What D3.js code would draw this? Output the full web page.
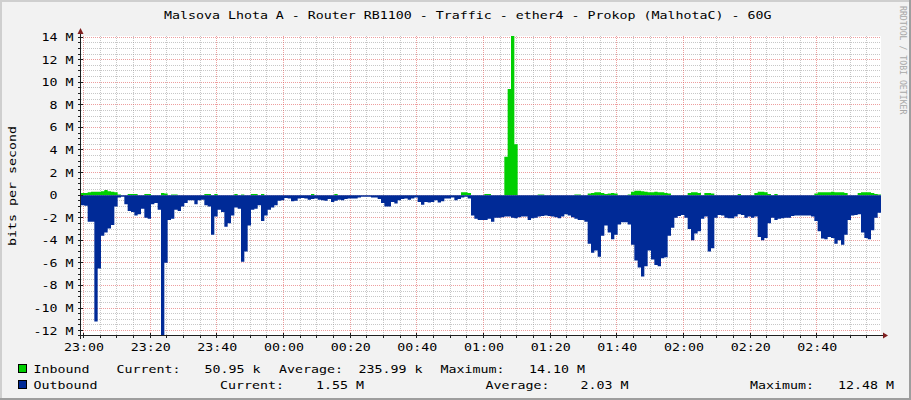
<!DOCTYPE html>
<html><head><meta charset="utf-8">
<script src="https://cdn.jsdelivr.net/npm/d3@7"></script>
<style>html,body{margin:0;padding:0;background:#f2f2f2;} svg{display:block;} text{font-family:"DejaVu Sans Mono",monospace;}</style>
</head><body><svg id="c" width="911" height="400"></svg>
<script>
const title = "Malsova Lhota A - Router RB1100 - Traffic - ether4 - Prokop (MalhotaC) - 60G";
const yLabel = "bits per second";
const watermark = "RRDTOOL / TOBI OETIKER";
const seriesNames = ["Inbound", "Outbound"];
const seriesColors = ["#00CF00", "#002A97"];
// values in M bits/s, one per minute starting 22:59:15
const inbound = [
  0.2, 0.2, 0.25, 0.3, 0.3, 0.3, 0.35, 0.45, 0.35, 0.3,
  0.25, 0.05, 0, 0, 0.1, 0.1, 0.1, 0, 0, 0.1,
  0.1, 0, 0, 0, 0.2, 0.15, 0, 0.05, 0.05, 0,
  0, 0, 0, 0, 0, 0, 0, 0.1, 0.1, 0,
  0.1, 0, 0, 0, 0, 0, 0.1, 0, 0.05, 0,
  0, 0.1, 0.1, 0, 0.1, 0, 0, 0, 0, 0,
  0, 0, 0, 0, 0, 0, 0, 0, 0, 0.1,
  0, 0, 0, 0, 0, 0, 0.1, 0, 0, 0,
  0, 0, 0, 0, 0, 0, 0, 0, 0, 0,
  0, 0, 0, 0, 0, 0, 0, 0, 0, 0,
  0, 0, 0, 0, 0, 0, 0, 0, 0, 0,
  0, 0, 0, 0, 0.25, 0.25, 0.2, 0, 0, 0,
  0, 0.1, 0.1, 0, 0, 0, 0, 3.4, 9.4, 14.1,
  4.5, 0, 0, 0, 0, 0, 0, 0.05, 0.05, 0,
  0, 0, 0, 0, 0, 0, 0, 0, 0.05, 0.05,
  0, 0, 0.15, 0.2, 0.25, 0.25, 0.2, 0.1, 0.15, 0.2,
  0.15, 0, 0, 0, 0.05, 0.3, 0.4, 0.4, 0.35, 0.3,
  0.25, 0.25, 0.3, 0.25, 0.25, 0.2, 0.15, 0, 0, 0,
  0, 0, 0.2, 0.25, 0.25, 0.2, 0, 0.2, 0.2, 0.15,
  0, 0, 0, 0, 0, 0, 0, 0.1, 0, 0,
  0, 0, 0.2, 0.3, 0.3, 0.25, 0.1, 0, 0.1, 0,
  0, 0, 0, 0, 0, 0, 0, 0, 0, 0,
  0.15, 0.25, 0.25, 0.25, 0.25, 0.3, 0.25, 0.25, 0.25, 0.2,
  0, 0, 0, 0.2, 0.25, 0.25, 0.25, 0.2, 0.1, 0.05
];
const outbound = [
  0.9, 0.95, 2.35, 2.35, 11.2, 6.5, 3.6, 3.3, 2.95, 2.65,
  1.0, 0.2, 0.15, 0.8, 1.4, 1.5, 1.8, 1.7, 1.2, 2.0,
  2.1, 0.8, 0.7, 1.3, 12.48, 6.0, 2.2, 2.1, 1.3, 1.4,
  1.0, 0.7, 0.45, 0.45, 0.8, 0.45, 0.4, 0.9, 1.0, 3.5,
  1.9, 1.3, 1.5, 2.8, 2.5, 1.8, 1.1, 1.2, 5.9, 5.0,
  2.7, 1.3, 1.2, 0.9, 2.3, 1.8, 1.3, 1.1, 0.9, 0.5,
  0.45, 0.25, 0.3, 0.55, 0.5, 0.3, 0.25, 0.3, 0.4, 0.35,
  0.3, 0.4, 0.45, 0.5, 0.35, 0.6, 0.5, 0.4, 0.45, 0.35,
  0.3, 0.3, 0.3, 0.2, 0.15, 0.15, 0.15, 0.2, 0.2, 0.35,
  0.7, 1.0, 1.0, 0.6, 0.75, 0.45, 0.35, 0.3, 0.4, 0.3,
  0.2, 0.6, 0.85, 0.6, 0.65, 0.6, 0.45, 0.65, 0.55, 0.3,
  0.3, 0.2, 0.45, 0.35, 0.2, 0.15, 0.3, 1.8, 2.1, 2.2,
  2.2, 2.2, 2.1, 2.35, 2.0, 2.0, 1.95, 1.9, 1.9, 2.0,
  2.05, 1.95, 1.9, 1.9, 2.2, 2.05, 2.0, 1.9, 1.85, 1.8,
  1.85, 1.9, 1.95, 2.05, 1.9, 1.7, 1.8, 1.95, 2.1, 2.2,
  2.2, 2.35, 4.3, 5.1, 4.9, 5.45, 3.6, 2.7, 3.3, 3.9,
  3.5, 2.6, 2.4, 2.4, 2.6, 4.4, 5.8, 6.4, 7.2, 6.3,
  4.9, 5.7, 6.2, 6.3, 5.6, 5.5, 3.6, 2.9, 2.0, 1.85,
  1.75, 2.0, 3.0, 4.0, 3.4, 3.2, 2.1, 1.9, 5.0, 4.7,
  2.0, 1.75, 1.8, 2.0, 2.05, 2.05, 1.9, 1.7, 1.75, 2.0,
  1.9, 2.0, 1.9, 3.7, 4.0, 3.8, 2.5, 2.0, 2.2, 2.1,
  2.05, 2.0, 2.0, 1.85, 1.8, 1.8, 1.8, 1.8, 1.8, 1.9,
  2.3, 3.2, 3.85, 3.9, 3.7, 3.8, 4.3, 4.0, 4.4, 3.5,
  2.2, 1.8, 1.75, 1.7, 3.3, 3.8, 3.9, 3.1, 2.0, 1.55
];
const legendCurrent = ["50.95 k", "1.55 M"];
const legendAverage = ["235.99 k", "2.03 M"];
const legendMaximum = ["14.10 M", "12.48 M"];
const yTickValues = [-12, -10, -8, -6, -4, -2, 0, 2, 4, 6, 8, 10, 12, 14];
const yTickLabels = ["-12 M", "-10 M", "-8 M", "-6 M", "-4 M", "-2 M", "0", "2 M", "4 M", "6 M", "8 M", "10 M", "12 M", "14 M"];
const yMin = -12.48, yMax = 14.10;
const startTime = new Date(2013, 0, 1, 22, 59, 15);
const endTime = new Date(2013, 0, 2, 2, 59, 15);

const svg = d3.select("#c");
const W = 911, H = 400;
const L = 81, R = 881, TOP = 36, BOT = 336;
const FS = 11, SX = 8 / (0.6021 * FS);

function T(parent, x, y, s, anchor, extra) {
  return parent.append("text")
    .attr("transform", `translate(${x},${y})${extra || ""} scale(${SX},1)`)
    .attr("text-anchor", anchor || "start")
    .attr("font-size", FS).attr("fill", "#000").text(s);
}

// background + frame
svg.append("rect").attr("x", 0).attr("y", 0).attr("width", W).attr("height", H).attr("fill", "#f2f2f2");
svg.append("rect").attr("x", 0).attr("y", 0).attr("width", W).attr("height", 2).attr("fill", "#cfcfcf");
svg.append("rect").attr("x", 0).attr("y", 0).attr("width", 2).attr("height", H).attr("fill", "#cfcfcf");
svg.append("rect").attr("x", W - 2).attr("y", 0).attr("width", 2).attr("height", H).attr("fill", "#9e9e9e");
svg.append("rect").attr("x", 0).attr("y", H - 2).attr("width", W).attr("height", 2).attr("fill", "#9e9e9e");

const x = d3.scaleTime().domain([startTime, endTime]).range([L, R]);
const y = d3.scaleLinear().domain([yMin, yMax]).range([BOT, TOP]);

// canvas
svg.append("rect").attr("x", L).attr("y", TOP).attr("width", R - L).attr("height", BOT - TOP).attr("fill", "#ffffff");

const grid = svg.append("g");
const snap = v => Math.floor(v) + 0.5;
const yMinor = d3.range(-24, 29).map(k => k * 0.5).filter(v => v >= yMin && v <= yMax && v % 2 !== 0);
grid.selectAll(".hm").data(yMinor).enter().append("line")
  .attr("x1", L).attr("x2", R).attr("y1", d => snap(y(d))).attr("y2", d => snap(y(d)))
  .attr("stroke", "rgba(143,143,143,0.5)").attr("stroke-dasharray", "1,1");
const xMinor = x.ticks(d3.timeMinute.every(5)).filter(t => t.getMinutes() % 20 !== 0);
grid.selectAll(".vm").data(xMinor).enter().append("line")
  .attr("y1", TOP).attr("y2", BOT).attr("x1", d => snap(x(d))).attr("x2", d => snap(x(d)))
  .attr("stroke", "rgba(143,143,143,0.5)").attr("stroke-dasharray", "1,1");
grid.selectAll(".hM").data(yTickValues).enter().append("line")
  .attr("x1", L).attr("x2", R).attr("y1", d => snap(y(d))).attr("y2", d => snap(y(d)))
  .attr("stroke", "rgba(222,79,79,0.55)").attr("stroke-dasharray", "1,1");
const xMajor = x.ticks(d3.timeMinute.every(20));
grid.selectAll(".vM").data(xMajor).enter().append("line")
  .attr("y1", TOP).attr("y2", BOT).attr("x1", d => snap(x(d))).attr("x2", d => snap(x(d)))
  .attr("stroke", "rgba(222,79,79,0.55)").attr("stroke-dasharray", "1,1");

// areas
svg.append("clipPath").attr("id", "cp").append("rect").attr("x", L).attr("y", TOP).attr("width", R - L).attr("height", BOT - TOP);
function pts(arr) {
  const p = arr.map((v, i) => ({ t: new Date(+startTime + i * 60000), v }));
  p.push({ t: new Date(+startTime + arr.length * 60000), v: arr[arr.length - 1] });
  return p;
}
const gArea = svg.append("g").attr("clip-path", "url(#cp)");
gArea.append("path").datum(pts(inbound))
  .attr("d", d3.area().curve(d3.curveStepAfter).x(d => x(d.t)).y0(y(0)).y1(d => y(d.v)))
  .attr("fill", seriesColors[0]);
gArea.append("path").datum(pts(outbound))
  .attr("d", d3.area().curve(d3.curveStepAfter).x(d => x(d.t)).y0(y(0)).y1(d => y(-d.v)))
  .attr("fill", seriesColors[1]);

// axes
const axisCol = "#1f1f1f", arrowCol = "#7f1f1f";
const ax = svg.append("g");
ax.append("line").attr("x1", L - 0.5).attr("x2", L - 0.5).attr("y1", BOT + 3).attr("y2", TOP - 3).attr("stroke", axisCol);
ax.append("line").attr("x1", L - 3).attr("x2", R + 3).attr("y1", BOT - 0.5).attr("y2", BOT - 0.5).attr("stroke", axisCol);
ax.selectAll(".ty").data(yMinor).enter().append("line")
  .attr("x1", L - 3).attr("x2", L).attr("y1", d => snap(y(d))).attr("y2", d => snap(y(d))).attr("stroke", axisCol);
ax.selectAll(".tY").data(yTickValues).enter().append("line")
  .attr("x1", L - 3).attr("x2", L + 2).attr("y1", d => snap(y(d))).attr("y2", d => snap(y(d))).attr("stroke", axisCol);
ax.selectAll(".tx").data(xMinor).enter().append("line")
  .attr("y1", BOT).attr("y2", BOT + 2).attr("x1", d => snap(x(d))).attr("x2", d => snap(x(d))).attr("stroke", axisCol);
ax.selectAll(".tX").data(xMajor).enter().append("line")
  .attr("y1", BOT - 3).attr("y2", BOT + 2).attr("x1", d => snap(x(d))).attr("x2", d => snap(x(d))).attr("stroke", axisCol);
ax.append("path").attr("d", `M${L - 3.5},${TOP - 2} L${L + 2.5},${TOP - 2} L${L - 0.5},${TOP - 8} Z`).attr("fill", arrowCol);
ax.append("path").attr("d", `M${R + 2},${BOT - 3.5} L${R + 2},${BOT + 2.5} L${R + 7},${BOT - 0.5} Z`).attr("fill", arrowCol);

// labels
const fmt = d3.timeFormat("%H:%M");
xMajor.forEach(t => T(svg, x(t) + 0.5, 351, fmt(t), "middle"));
yTickValues.forEach((v, i) => {
  const yy = y(v) + 4;
  if (v === 0) T(svg, 57.5, yy, yTickLabels[i], "end");
  else T(svg, 73.5, yy, yTickLabels[i], "end");
});
T(svg, 467.7, 18.5, title, "middle");
T(svg, 15.5, 186, yLabel, "middle", " rotate(-90)");
svg.append("text").attr("transform", "translate(900,6) rotate(90)").attr("font-size", 8.2)
  .attr("fill", "#a8a8a8").text(watermark);

// legend
const rows = [
  { by: 372.5, pos: [33.5, 116.5, 204.5, 279, 358.5, 440.5, 529] },
  { by: 388.5, pos: [33.5, 220, 316, 485.5, 580.5, 750, 838] }
];
rows.forEach((r, i) => {
  svg.append("rect").attr("x", 18.5).attr("y", r.by - 8).attr("width", 8).attr("height", 8)
    .attr("fill", seriesColors[i]).attr("stroke", "#000").attr("stroke-width", 1);
  const items = [seriesNames[i], "Current:", legendCurrent[i], "Average:", legendAverage[i], "Maximum:", legendMaximum[i]];
  items.forEach((s, j) => T(svg, r.pos[j], r.by, s, "start"));
});
</script></body></html>
